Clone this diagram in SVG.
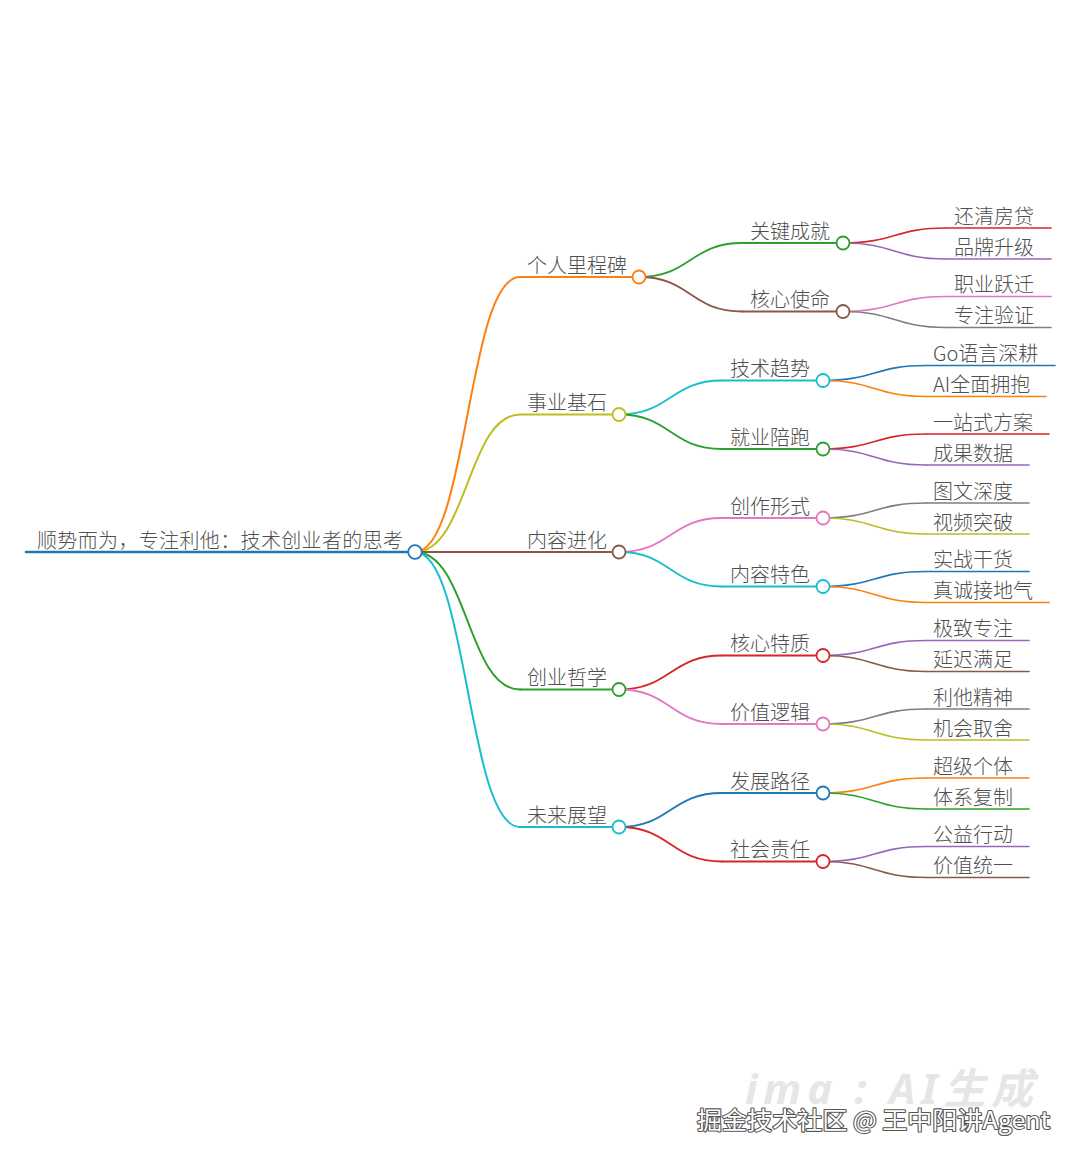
<svg xmlns="http://www.w3.org/2000/svg" width="1080" height="1166" viewBox="0 0 1080 1166">
<style>
  text { font-family: "Noto Sans CJK SC", "Noto Sans", sans-serif; font-size: 20px; font-weight: 300; fill: #505050; }
  .ln { fill: none; stroke-linecap: round; }
  .l0 { stroke-width: 2.6; }
  .l1 { stroke-width: 2; }
  .l2 { stroke-width: 1.8; }
  .l3 { stroke-width: 1.6; }
  circle { fill: #fff; stroke-width: 1.8; }
  .c-blue { stroke: #1f77b4; } .c-orange { stroke: #ff7f0e; } .c-green { stroke: #2ca02c; }
  .c-red { stroke: #d62728; } .c-purple { stroke: #9467bd; } .c-brown { stroke: #8c564b; }
  .c-pink { stroke: #e377c2; } .c-gray { stroke: #7f7f7f; } .c-olive { stroke: #bcbd22; } .c-cyan { stroke: #17becf; }
  .wm1 { font-family: "Noto Sans", "Noto Sans CJK SC", sans-serif; font-size: 42px; font-style: italic; font-weight: bold; fill: #e6e6e6; }
  .wm2 { font-family: "Noto Sans CJK SC", "Noto Sans", sans-serif; font-size: 24px; font-weight: 400; fill: #fff; stroke: #555; stroke-width: 2.2; paint-order: stroke; stroke-linejoin: round; }
</style>
<rect width="1080" height="1166" fill="#fff"/>

<g id="connectors">
  <path class="ln l1 c-orange" d="M415 552 C467.5 552 467.5 277 520 277"/>
  <path class="ln l1 c-olive" d="M415 552 C467.5 552 467.5 414.5 520 414.5"/>
  <path class="ln l1 c-brown" d="M415 552 L520 552"/>
  <path class="ln l1 c-green" d="M415 552 C467.5 552 467.5 689.5 520 689.5"/>
  <path class="ln l1 c-cyan" d="M415 552 C467.5 552 467.5 827 520 827"/>
  <path class="ln l2 c-green" d="M639 277 C690.5 277 690.5 243 742 243"/>
  <path class="ln l2 c-brown" d="M639 277 C690.5 277 690.5 311.5 742 311.5"/>
  <path class="ln l2 c-cyan" d="M619 414.5 C670.5 414.5 670.5 380.5 722 380.5"/>
  <path class="ln l2 c-green" d="M619 414.5 C670.5 414.5 670.5 449 722 449"/>
  <path class="ln l2 c-pink" d="M619 552 C670.5 552 670.5 518 722 518"/>
  <path class="ln l2 c-cyan" d="M619 552 C670.5 552 670.5 586.5 722 586.5"/>
  <path class="ln l2 c-red" d="M619 689.5 C670.5 689.5 670.5 655.5 722 655.5"/>
  <path class="ln l2 c-pink" d="M619 689.5 C670.5 689.5 670.5 724 722 724"/>
  <path class="ln l2 c-blue" d="M619 827 C670.5 827 670.5 793 722 793"/>
  <path class="ln l2 c-red" d="M619 827 C670.5 827 670.5 861.5 722 861.5"/>
  <path class="ln l3 c-red" d="M843 243 C894.5 243 894.5 228 946 228"/>
  <path class="ln l3 c-purple" d="M843 243 C894.5 243 894.5 259 946 259"/>
  <path class="ln l3 c-pink" d="M843 311.5 C894.5 311.5 894.5 296.5 946 296.5"/>
  <path class="ln l3 c-gray" d="M843 311.5 C894.5 311.5 894.5 327.5 946 327.5"/>
  <path class="ln l3 c-blue" d="M823 380.5 C874.5 380.5 874.5 365.5 926 365.5"/>
  <path class="ln l3 c-orange" d="M823 380.5 C874.5 380.5 874.5 396.5 926 396.5"/>
  <path class="ln l3 c-red" d="M823 449 C874.5 449 874.5 434 926 434"/>
  <path class="ln l3 c-purple" d="M823 449 C874.5 449 874.5 465 926 465"/>
  <path class="ln l3 c-gray" d="M823 518 C874.5 518 874.5 503 926 503"/>
  <path class="ln l3 c-olive" d="M823 518 C874.5 518 874.5 534 926 534"/>
  <path class="ln l3 c-blue" d="M823 586.5 C874.5 586.5 874.5 571.5 926 571.5"/>
  <path class="ln l3 c-orange" d="M823 586.5 C874.5 586.5 874.5 602.5 926 602.5"/>
  <path class="ln l3 c-purple" d="M823 655.5 C874.5 655.5 874.5 640.5 926 640.5"/>
  <path class="ln l3 c-brown" d="M823 655.5 C874.5 655.5 874.5 671.5 926 671.5"/>
  <path class="ln l3 c-gray" d="M823 724 C874.5 724 874.5 709 926 709"/>
  <path class="ln l3 c-olive" d="M823 724 C874.5 724 874.5 740 926 740"/>
  <path class="ln l3 c-orange" d="M823 793 C874.5 793 874.5 778 926 778"/>
  <path class="ln l3 c-green" d="M823 793 C874.5 793 874.5 809 926 809"/>
  <path class="ln l3 c-purple" d="M823 861.5 C874.5 861.5 874.5 846.5 926 846.5"/>
  <path class="ln l3 c-brown" d="M823 861.5 C874.5 861.5 874.5 877.5 926 877.5"/>
</g>

<g id="root">
  <path class="ln l0 c-blue" d="M26 552 H415"/>
  <text x="37" y="547.5" textLength="366" lengthAdjust="spacing">顺势而为，专注利他：技术创业者的思考</text>
  <circle class="c-blue" cx="415" cy="552" r="6.8"/>
</g>

<g id="n-milestone">
  <path class="ln l1 c-orange" d="M520 277 H639"/>
  <text x="527" y="272.5">个人里程碑</text>
  <circle class="c-orange" cx="639" cy="277" r="6.5"/>
</g>
<g id="n-foundation">
  <path class="ln l1 c-olive" d="M520 414.5 H619"/>
  <text x="527" y="410">事业基石</text>
  <circle class="c-olive" cx="619" cy="414.5" r="6.5"/>
</g>
<g id="n-content">
  <path class="ln l1 c-brown" d="M520 552 H619"/>
  <text x="527" y="547.5">内容进化</text>
  <circle class="c-brown" cx="619" cy="552" r="6.5"/>
</g>
<g id="n-philosophy">
  <path class="ln l1 c-green" d="M520 689.5 H619"/>
  <text x="527" y="685">创业哲学</text>
  <circle class="c-green" cx="619" cy="689.5" r="6.5"/>
</g>
<g id="n-future">
  <path class="ln l1 c-cyan" d="M520 827 H619"/>
  <text x="527" y="822.5">未来展望</text>
  <circle class="c-cyan" cx="619" cy="827" r="6.5"/>
</g>

<g id="n-achieve">
  <path class="ln l2 c-green" d="M742 243 H843"/>
  <text x="750" y="238.5">关键成就</text>
  <circle class="c-green" cx="843" cy="243" r="6.5"/>
</g>
<g id="n-mission">
  <path class="ln l2 c-brown" d="M742 311.5 H843"/>
  <text x="750" y="307">核心使命</text>
  <circle class="c-brown" cx="843" cy="311.5" r="6.5"/>
</g>
<g id="n-trend">
  <path class="ln l2 c-cyan" d="M722 380.5 H823"/>
  <text x="730" y="376">技术趋势</text>
  <circle class="c-cyan" cx="823" cy="380.5" r="6.5"/>
</g>
<g id="n-job">
  <path class="ln l2 c-green" d="M722 449 H823"/>
  <text x="730" y="444.5">就业陪跑</text>
  <circle class="c-green" cx="823" cy="449" r="6.5"/>
</g>
<g id="n-form">
  <path class="ln l2 c-pink" d="M722 518 H823"/>
  <text x="730" y="513.5">创作形式</text>
  <circle class="c-pink" cx="823" cy="518" r="6.5"/>
</g>
<g id="n-feature">
  <path class="ln l2 c-cyan" d="M722 586.5 H823"/>
  <text x="730" y="582">内容特色</text>
  <circle class="c-cyan" cx="823" cy="586.5" r="6.5"/>
</g>
<g id="n-trait">
  <path class="ln l2 c-red" d="M722 655.5 H823"/>
  <text x="730" y="651">核心特质</text>
  <circle class="c-red" cx="823" cy="655.5" r="6.5"/>
</g>
<g id="n-logic">
  <path class="ln l2 c-pink" d="M722 724 H823"/>
  <text x="730" y="719.5">价值逻辑</text>
  <circle class="c-pink" cx="823" cy="724" r="6.5"/>
</g>
<g id="n-path">
  <path class="ln l2 c-blue" d="M722 793 H823"/>
  <text x="730" y="788.5">发展路径</text>
  <circle class="c-blue" cx="823" cy="793" r="6.5"/>
</g>
<g id="n-social">
  <path class="ln l2 c-red" d="M722 861.5 H823"/>
  <text x="730" y="857">社会责任</text>
  <circle class="c-red" cx="823" cy="861.5" r="6.5"/>
</g>

<g id="l-mortgage"><path class="ln l3 c-red" d="M946 228 H1051"/><text x="954" y="223.5">还清房贷</text></g>
<g id="l-brand"><path class="ln l3 c-purple" d="M946 259 H1051"/><text x="954" y="254.5">品牌升级</text></g>
<g id="l-career"><path class="ln l3 c-pink" d="M946 296.5 H1051"/><text x="954" y="292">职业跃迁</text></g>
<g id="l-verify"><path class="ln l3 c-gray" d="M946 327.5 H1051"/><text x="954" y="323">专注验证</text></g>
<g id="l-go"><path class="ln l3 c-blue" d="M926 365.5 H1055"/><text x="933" y="361">Go语言深耕</text></g>
<g id="l-ai"><path class="ln l3 c-orange" d="M926 396.5 H1046"/><text x="933" y="392">AI全面拥抱</text></g>
<g id="l-onestop"><path class="ln l3 c-red" d="M926 434 H1049"/><text x="933" y="429.5">一站式方案</text></g>
<g id="l-data"><path class="ln l3 c-purple" d="M926 465 H1029"/><text x="933" y="460.5">成果数据</text></g>
<g id="l-article"><path class="ln l3 c-gray" d="M926 503 H1029"/><text x="933" y="498.5">图文深度</text></g>
<g id="l-video"><path class="ln l3 c-olive" d="M926 534 H1029"/><text x="933" y="529.5">视频突破</text></g>
<g id="l-practical"><path class="ln l3 c-blue" d="M926 571.5 H1029"/><text x="933" y="567">实战干货</text></g>
<g id="l-sincere"><path class="ln l3 c-orange" d="M926 602.5 H1049"/><text x="933" y="598">真诚接地气</text></g>
<g id="l-focus"><path class="ln l3 c-purple" d="M926 640.5 H1029"/><text x="933" y="636">极致专注</text></g>
<g id="l-delay"><path class="ln l3 c-brown" d="M926 671.5 H1029"/><text x="933" y="667">延迟满足</text></g>
<g id="l-altruism"><path class="ln l3 c-gray" d="M926 709 H1029"/><text x="933" y="704.5">利他精神</text></g>
<g id="l-choice"><path class="ln l3 c-olive" d="M926 740 H1029"/><text x="933" y="735.5">机会取舍</text></g>
<g id="l-super"><path class="ln l3 c-orange" d="M926 778 H1029"/><text x="933" y="773.5">超级个体</text></g>
<g id="l-system"><path class="ln l3 c-green" d="M926 809 H1029"/><text x="933" y="804.5">体系复制</text></g>
<g id="l-charity"><path class="ln l3 c-purple" d="M926 846.5 H1029"/><text x="933" y="842">公益行动</text></g>
<g id="l-unity"><path class="ln l3 c-brown" d="M926 877.5 H1029"/><text x="933" y="873">价值统一</text></g>

<g id="watermark">
  <text class="wm1" x="745" y="1104" textLength="288" lengthAdjust="spacing">ima : AI生成</text>
  <text class="wm2" x="697" y="1129" textLength="353" lengthAdjust="spacingAndGlyphs">掘金技术社区 @ 王中阳讲Agent</text>
</g>
</svg>
